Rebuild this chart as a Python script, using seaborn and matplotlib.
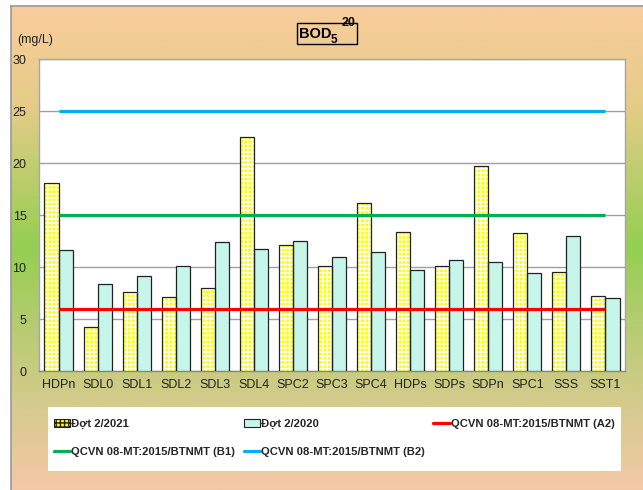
import numpy as np
import pandas as pd
import matplotlib
matplotlib.use("Agg")
import matplotlib.pyplot as plt
from matplotlib.colors import LinearSegmentedColormap
from matplotlib.patches import Rectangle, Patch
from matplotlib.lines import Line2D
import seaborn as sns

categories = ["HDPn", "SDL0", "SDL1", "SDL2", "SDL3", "SDL4", "SPC2", "SPC3",
              "SPC4", "HDPs", "SDPs", "SDPn", "SPC1", "SSS", "SST1"]
dot_2021 = [18.1, 4.2, 7.6, 7.1, 8.0, 22.5, 12.1, 10.1, 16.2, 13.4, 10.1, 19.7, 13.3, 9.5, 7.2]
dot_2020 = [11.6, 8.4, 9.1, 10.1, 12.4, 11.7, 12.5, 11.0, 11.4, 9.7, 10.7, 10.5, 9.4, 13.0, 7.0]
series_names = ["Đợt 2/2021", "Đợt 2/2020"]
limit_names = ["QCVN 08-MT:2015/BTNMT (A2)", "QCVN 08-MT:2015/BTNMT (B1)", "QCVN 08-MT:2015/BTNMT (B2)"]
limit_values = [6, 15, 25]
limit_colors = ["#FF0000", "#00B050", "#00B0F0"]
yticks = [0, 5, 10, 15, 20, 25, 30]

sns.set_theme(style="white")
plt.rcParams["font.family"] = ["Liberation Sans", "DejaVu Sans"]
plt.rcParams["hatch.linewidth"] = 1.0

W, H = 643, 490
fig = plt.figure(figsize=(W / 100, H / 100), dpi=100)
fig.patch.set_facecolor("white")

def fx(px):
    return px / W

def fy(py):
    return 1 - py / H

# gradient background
bg = fig.add_axes([fx(11), 0, 1 - fx(11), 1 - 6 / H], zorder=-5)
cmap = LinearSegmentedColormap.from_list("bg", [
    (0.0, "#F9CC9C"), (0.2, "#E6CC88"), (0.5, "#94CF52"),
    (0.72, "#C2CB7C"), (0.85, "#D9CB90"), (1.0, "#F4C8A7")])
grad = np.linspace(0, 1, 256).reshape(-1, 1)
bg.imshow(grad, aspect="auto", cmap=cmap, extent=[0, 1, 0, 1], origin="upper")
bg.set_xlim(0, 1); bg.set_ylim(0, 1)
bg.set_xticks([]); bg.set_yticks([])
for s in ["right", "bottom"]:
    bg.spines[s].set_visible(False)
for s in ["left", "top"]:
    bg.spines[s].set_color("#999999")
    bg.spines[s].set_linewidth(1.2)

ax = fig.add_axes([fx(39), fy(371), (625 - 39) / W, (371 - 59) / H])
ax.set_facecolor("white")

df = pd.DataFrame({
    "cat": categories * 2,
    "val": dot_2021 + dot_2020,
    "series": [series_names[0]] * len(categories) + [series_names[1]] * len(categories),
})
sns.barplot(data=df, x="cat", y="val", hue="series", order=categories,
            hue_order=series_names, palette=["#FFFF00", "#C6F6EA"],
            width=0.72, gap=0, saturation=1, edgecolor="#222222", linewidth=0.9,
            legend=False, ax=ax, zorder=3)

n = len(categories)
patches = list(ax.patches)
for p in patches[:n]:
    x, y = p.get_xy()
    w, h = p.get_width(), p.get_height()
    p.set_hatch("++++")
    p.set_edgecolor("white")
    p.set_linewidth(0)
    ax.add_patch(Rectangle((x, y), w, h, fill=False, edgecolor="#222222",
                           linewidth=0.9, zorder=3.5))

xs = np.arange(n)
for v, c in zip(limit_values, limit_colors):
    ax.plot([xs[0], xs[-1]], [v, v], color=c, linewidth=2.3, zorder=5,
            solid_capstyle="butt")

ax.set_ylim(0, 30)
ax.set_xlim(-0.5, n - 0.5)
ax.set_yticks(yticks)
ax.yaxis.grid(True, color="#A0A0A0", linewidth=1)
ax.set_axisbelow(True)
ax.set_xlabel("")
ax.set_ylabel("")
ax.tick_params(axis="both", length=0, labelsize=9, colors="#222222")
ax.tick_params(axis="y", pad=9)
ax.tick_params(axis="x", pad=6)
for s in ax.spines.values():
    s.set_color("#A6A6A6")
    s.set_linewidth(1)
ax.spines["bottom"].set_color("#888888")

fig.text(fx(17), fy(40), "(mg/L)", fontsize=9, va="center", ha="left", color="#222222")

# title BOD5^20 in a box
fig.patches.append(Rectangle((fx(297), fy(44)), (357 - 297) / W, (44 - 23) / H,
                             transform=fig.transFigure, fill=False,
                             edgecolor="black", linewidth=1))
fig.text(fx(299), fy(38.5), "BOD", fontsize=10.5, fontweight="bold", ha="left",
         va="baseline", color="black")
fig.text(fx(331), fy(43), "5", fontsize=8.5, fontweight="bold", ha="left",
         va="baseline", color="black")
fig.text(fx(341.5), fy(25.5), "20", fontsize=9, fontweight="bold", ha="left",
         va="baseline", color="black")

# legend box
fig.patches.append(Rectangle((fx(48), fy(471)), (621 - 48) / W, (471 - 407) / H,
                             transform=fig.transFigure, facecolor="white",
                             edgecolor="none", zorder=1))
h_2021 = Patch(facecolor="#FFFF00", edgecolor="#222222", hatch="++++", linewidth=0.8)
h_2020 = Patch(facecolor="#C6F6EA", edgecolor="#222222", linewidth=0.8)
hl = [Line2D([], [], color=c, linewidth=2.3) for c in limit_colors]
handles = [h_2021, hl[1], h_2020, hl[2], hl[0]]
labels = [series_names[0], limit_names[1], series_names[1], limit_names[2], limit_names[0]]
leg = fig.legend(handles, labels, ncol=3, loc="upper left",
                 bbox_to_anchor=(fx(54), fy(419)),
                 frameon=False, borderaxespad=0, borderpad=0,
                 prop={"weight": "bold", "size": 8.1}, handlelength=1.45,
                 handleheight=0.6, handletextpad=0.1, labelspacing=1.6,
                 columnspacing=0.75)
leg.set_zorder(2)

fig.savefig("out.png", dpi=100)
